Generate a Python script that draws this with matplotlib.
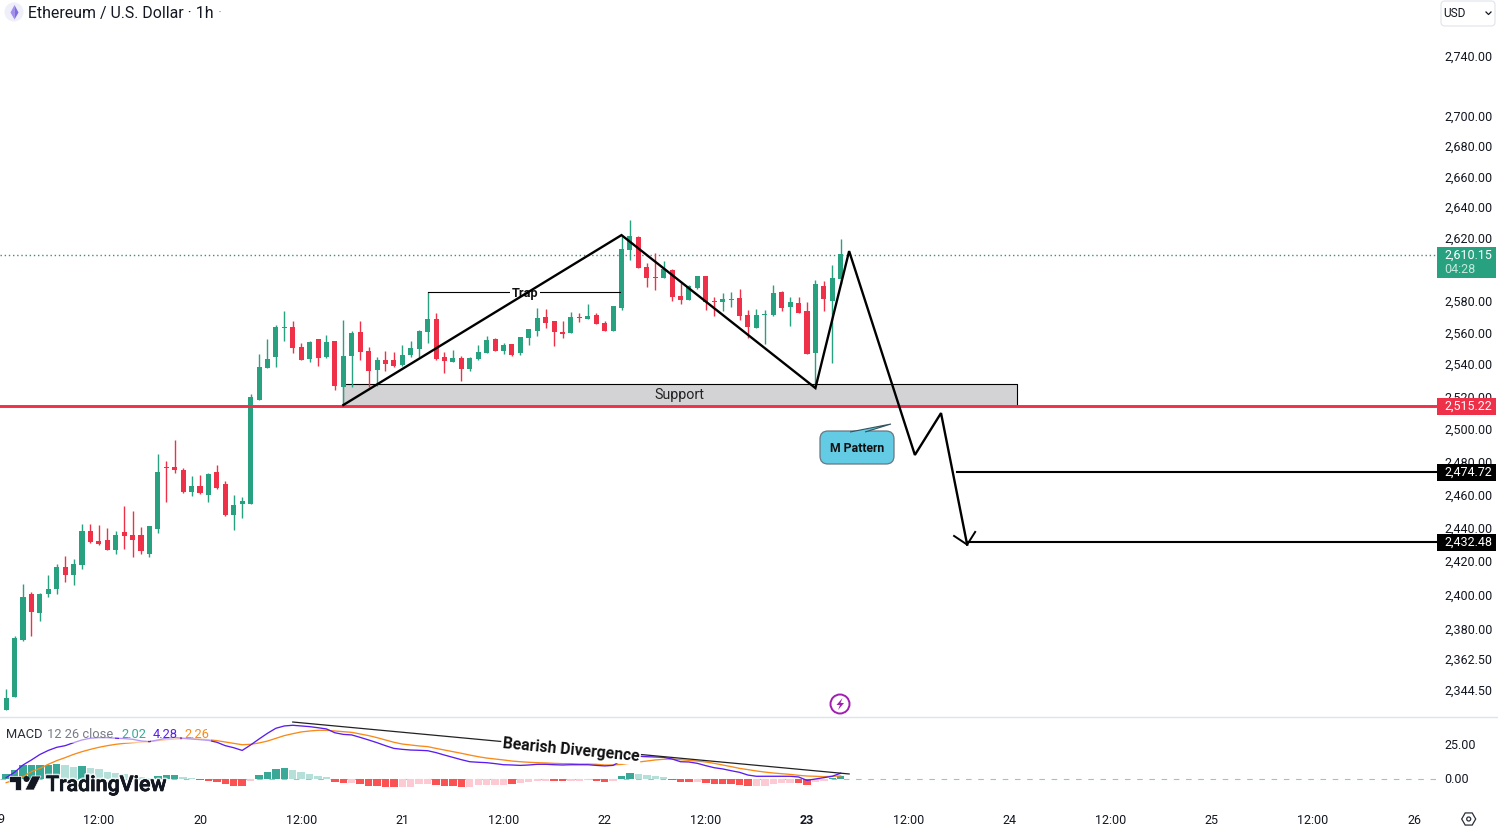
import matplotlib
matplotlib.use("Agg")
import matplotlib.pyplot as plt
import matplotlib.patheffects as pe
from matplotlib.patches import Rectangle, FancyBboxPatch, Polygon, Circle, RegularPolygon
from matplotlib.ticker import NullLocator
from matplotlib.transforms import blended_transform_factory, ScaledTranslation
import numpy as np

plt.rcParams['font.family'] = ['Roboto', 'DejaVu Sans']

# ---------- data ----------
hours = list(range(1, 101))
opens = [2333.5,2341,2374.1,2401.1,2390,2401.1,2404.1,2417.1,2412.4,2418.3,
2438.6,2432.6,2433.2,2427.2,2438,2436.2,2436.2,2424.9,2439.8,2477.2,
2477.2,2475.4,2462,2465.7,2460.2,2474.2,2466.9,2448.2,2454.8,2454.8,
2518.4,2538.3,2545.2,2563.4,2564,2551.4,2543.9,2556.4,2545.2,2555.2,
2526.4,2545.8,2560.8,2548.9,2537,2543.3,2543.3,2540.2,2546.4,2550.2,
2560.8,2569,2545.2,2542,2544.6,2537.7,2543.9,2547.7,2556.4,2548.9,
2553.3,2547.7,2557,2561.5,2570.3,2567.8,2560.8,2560.2,2570.3,2569,
2571.6,2566.5,2561.5,2576,2613,2621.3,2602.1,2595.7,2595,2600.2,
2583.6,2581.1,2588.7,2596.3,2580.5,2579.8,2581.1,2582.4,2571.6,2563.4,
2571.6,2571.6,2586.2,2576.7,2579.2,2574.1,2547.7,2590,2580.5,2594.4]
closes = [2340.4,2375.3,2399.4,2390.5,2401.1,2404.1,2417.1,2412.4,2418.9,2438.6,
2432,2430.8,2427.2,2436.2,2435.6,2433.2,2426.6,2441.6,2474.2,2476.6,
2475.4,2462,2465.7,2461.4,2473,2464.4,2448.2,2454.2,2456.6,2520.3,
2538.9,2543.9,2564,2564,2550.8,2543.3,2554.6,2544.6,2554.6,2527,
2545.8,2560.2,2548.3,2536.4,2543.3,2540.8,2539.6,2546.4,2550.8,2561.5,
2569,2543.9,2542.7,2544.6,2537.7,2544.6,2548.3,2555.8,2548.9,2552.7,
2546.4,2557.7,2562.7,2569.7,2566.5,2560.8,2559.6,2570.3,2569.7,2571,
2565.9,2561.5,2577.3,2613.6,2622,2601.5,2595,2595,2600.8,2583,
2581.1,2590,2596.3,2579.8,2579.8,2581.7,2581.7,2570.9,2564,2571.6,
2572.2,2585.6,2576,2579.8,2572.8,2547,2591.3,2581.7,2595,2610.15]
highs = [2345.6,2376.4,2407,2402.3,2401.7,2412.4,2418.9,2423.7,2421.9,2442.8,
2442.8,2442.2,2440.4,2438.6,2453.6,2450.6,2441,2441.6,2485.2,2480.9,
2493.8,2476.6,2471.7,2472.4,2473.6,2478.4,2468.7,2460.2,2459,2522.1,
2547,2556.4,2565.2,2574.1,2567.8,2553.9,2555.2,2556.4,2559,2555.2,
2568.4,2561.5,2567.8,2551.4,2545.2,2548.9,2548.3,2552.7,2555.2,2562.1,
2586.2,2572.8,2548.3,2549.5,2545.8,2545.2,2552.7,2558.3,2557,2553.9,
2553.3,2557.7,2562.7,2576,2575.4,2567.8,2567.8,2573.5,2572.8,2578.6,
2572.8,2567.8,2577.3,2622.6,2632.4,2622,2604.7,2611,2606,2600.8,
2591.9,2590.6,2596.3,2596.3,2583,2585.6,2586.2,2588,2574.7,2575.4,
2574.7,2590.6,2586.8,2583,2583,2579.8,2593.8,2593.2,2603.4,2620]
lows = [2333.5,2341,2373.5,2376.4,2385.2,2399.4,2401.1,2408.2,2406.4,2415.9,
2431.4,2430.2,2427.2,2424.9,2427.8,2423.1,2424.9,2423.1,2437.4,2456,
2473.6,2461.4,2459.6,2460.8,2456,2463.8,2447.6,2439.2,2446.4,2454.8,
2518.4,2538.3,2538.9,2555.2,2547.7,2543.3,2542,2539.6,2544.6,2524.6,
2515.3,2526.4,2543.3,2526.4,2527,2536.4,2538.9,2539.6,2545.2,2545.2,
2553.9,2543.3,2535.2,2542,2530.2,2536.4,2543.3,2547.7,2548.9,2547,
2545.8,2546.4,2552.7,2558.3,2563.4,2552,2557,2560.2,2567.2,2569,
2565.9,2561.5,2561.5,2574.7,2606.6,2601.5,2589.3,2587.4,2595,2580.5,
2578.6,2581.1,2588,2574.7,2570.9,2574.1,2576.7,2568.4,2557,2563.4,
2553.3,2570.9,2574.1,2564.6,2572.8,2547,2525.6,2574.1,2541.4,2591.3]

hist = [3.7,6.6,10.3,10.3,10.3,10.3,11,10.3,9,9.6,
7.8,7.4,5.4,4.2,3.7,2.5,1.7,.5,2,2.7,
2.9,1.2,.5,-.5,-1.2,-2,-3.7,-5.1,-5.1,-1.5,
2.9,5.4,7.4,8.1,6.6,5.4,3.9,2.5,1.5,-2,
-2.9,-2.9,-3.7,-5.1,-5.1,-5.9,-5.9,-5.9,-5.6,-3.9,
-3.7,-4.4,-5.1,-5.1,-5.9,-5.9,-4.4,-4.2,-4.2,-4.2,
-3.7,-2.9,-2.2,-1.5,-1.5,-1.2,-1.2,-1.2,-1.2,-.5,
-1.5,-2.2,-1.2,2.2,4.4,3.7,2.9,2.2,1.5,-.5,
-2.2,-2.2,-2.2,-3.2,-3.7,-3.7,-3.7,-4.4,-5.1,-5.1,
-5.1,-3.7,-2.9,-2.9,-2.9,-4.4,-2.2,-1.2,.7,2.02]
hist_strong = [1,1,1,1,1,1,1,0,0,1,
0,0,0,0,0,0,0,0,1,1,
1,0,0,1,1,1,1,1,1,0,
1,1,1,1,0,0,0,0,0,1,
1,0,1,1,1,1,1,0,0,0,
0,1,1,1,1,0,0,0,0,0,
1,0,0,0,0,1,1,0,0,0,
1,1,0,1,1,0,0,0,0,1,
1,1,0,1,1,1,1,1,1,0,
0,0,0,0,1,1,0,0,1,1]
macd_line = [1,4.9,10.3,14,18,21,23.3,24.5,26.7,28.7,
30,30.4,30.4,30,29.7,29.2,28,27.5,28.7,30,
30.6,30,29.4,28.9,28.4,27,24.5,23,21,25,
29.4,33.6,37.3,39,39.5,39,38.5,37.7,36.8,34,
32.8,32.4,30.6,28.7,26.7,24.5,22.5,21.8,21.3,21.1,
20.8,19.4,17.6,15.9,14.2,12.7,12.3,12,11.3,10.5,
10.3,10,10.3,10.8,10.8,10.5,10.3,10.5,10.5,10.5,
10,9.6,10,13.5,16.4,16.7,16.4,16.2,15.9,14.7,
12.7,12.5,11.5,9.8,8.3,7.4,6.1,4.9,2.9,2,
2,2,2,2,1.5,-1,0,1,2,4.28]
signal_line = [-2.7,-.7,1.7,5.4,7.8,10.8,13.5,15.7,18.1,20.1,
21.8,23.3,24.5,25.5,26.2,26.7,27.2,27.5,28.2,28.9,
29.4,29.7,29.7,29.4,28.9,28.2,27.2,26.2,25.2,25.5,
26.5,27.9,29.9,31.9,33.3,34.6,35.3,35.8,35.8,35.3,
34.8,34.3,33.1,31.9,30.4,28.7,27,25.7,25,24.3,
23.8,22.5,21.3,20.1,18.9,17.6,16.4,15.4,14.7,14,
13.2,12.7,12.3,12,11.8,11.5,11.3,11.3,11,11,
10.8,10.3,10.3,10.8,11.5,12.5,13.2,14,14.5,14.7,
14.2,13.7,13.2,12.5,11.5,10.3,9.1,7.8,6.9,5.9,
5.1,4.4,3.9,3.4,2.7,2.2,2,1.7,2,2.26]

price_ticks = [2740,2700,2680,2660,2640,2620,2580,2560,2540,2520,2500,2480,2460,2440,2420,2400,2380,2362.5,2344.5]
macd_ticks = [25, 0]
time_ticks = [12,24,36,48,60,72,84,96,108,120,132,144,156,168]
time_labels = ['12:00','20','12:00','21','12:00','22','12:00','23','12:00','24','12:00','25','12:00','26']

last_price = 2610.15
support_price = 2515.22
target1 = 2474.72
target2 = 2432.48
support_top = 2528.2
support_span = [41, 120.9]
support_text_at = (80.9, 2521.6)
trap_span = [51, 73.8]
trap_price = 2586.2
trap_text = (62.5, 2585.4)
zig_h = [41, 74, 97, 101, 108.8, 111.9, 115]
zig_p = [2515.3, 2622.6, 2525.8, 2612.3, 2484.6, 2510.3, 2430.4]
head_h = [113.45, 115, 115.95]
head_p = [2435.6, 2430.4, 2438]
target1_start = 113.8
target2_start = 115
div_h = [35, 101]
div_v = [41.9, 3.7]
div_text_at = (68, 21.4)

# ---------- layout ----------
W, H = 1498, 830
GREEN, RED = '#27a17f', '#ee3148'
TXT = '#131722'
PX_PER_HOUR, PX_ORIGIN = 8.43, -2.3
AX_R, MAIN_B, MACD_B = 1437, 716, 805
fig = plt.figure(figsize=(W/100, H/100), dpi=100, facecolor='white')
ax = fig.add_axes([0, 1-MAIN_B/H, AX_R/W, MAIN_B/H])
am = fig.add_axes([0, 1-MACD_B/H, AX_R/W, (MACD_B-717)/H])
ui = fig.add_axes([0, 0, 1, 1], zorder=10)
ui.set_xlim(0, W); ui.set_ylim(H, 0); ui.axis('off'); ui.patch.set_alpha(0)

up1 = ScaledTranslation(0, 1/100, fig.dpi_scale_trans)
down1 = ScaledTranslation(0, -1/100, fig.dpi_scale_trans)
down_support = ScaledTranslation(0, -0.8/100, fig.dpi_scale_trans)

xlim = ((0-PX_ORIGIN)/PX_PER_HOUR, (AX_R-PX_ORIGIN)/PX_PER_HOUR)

# ---------- price pane ----------
ax.set_yscale('log')
ax.set_xlim(*xlim)
ax.set_ylim(2740*np.exp(-659/4067), 2740*np.exp(57/4067))
for s in ax.spines.values():
    s.set_visible(False)
ax.set_xticks([])
ax.yaxis.tick_right()
ax.set_yticks(price_ticks)
ax.yaxis.set_minor_locator(NullLocator())
ax.set_yticklabels([f'{p:,.2f}' for p in price_ticks], fontsize=9, color=TXT)
ax.tick_params(axis='y', length=0, pad=5.1)
for lbl in ax.get_yticklabels():
    lbl.set_transform(lbl.get_transform() + up1)

colors = [GREEN if c >= o else RED for o, c in zip(opens, closes)]
ax.vlines(hours, lows, highs, colors=colors, lw=1.0, zorder=3)
body_lo = np.minimum(opens, closes)
body_hi = np.maximum(opens, closes)
ax.bar(hours, np.maximum(body_hi-body_lo, 0.6), bottom=body_lo, width=0.6, color=colors, lw=0, zorder=3)

ax.plot(xlim, [last_price]*2, color='#3d8f78', lw=1.0, ls=(0, (1, 2)), zorder=1,
        transform=ax.transData + down1)
ax.fill_between(support_span, support_price, support_top, color='#d3d3d6', lw=0, zorder=1)
ax.plot([support_span[0], support_span[0], support_span[1], support_span[1]],
        [support_price, support_top, support_top, support_price], color='black', lw=0.8, zorder=2)
ax.plot(xlim, [support_price]*2, color=RED, lw=2.1, zorder=4, transform=ax.transData + down_support)
ax.text(*support_text_at, 'Support', ha='center', va='center', fontsize=10.3, color='#222222', zorder=5)

ax.plot(trap_span, [trap_price]*2, color='black', lw=0.8, zorder=4)
ax.text(*trap_text, 'Trap', ha='center', va='center', fontsize=9.2, fontweight='bold', color='#111111',
        bbox=dict(fc='white', ec='none', pad=1.2), zorder=5)

ax.plot(zig_h, zig_p, color='black', lw=1.7, zorder=6, solid_joinstyle='miter')
ax.plot(head_h, head_p, color='black', lw=1.4, zorder=6)
ax.plot([target1_start, xlim[1]], [target1]*2, color='black', lw=1.5, zorder=5, transform=ax.transData + down1)
ax.plot([target2_start, xlim[1]], [target2]*2, color='black', lw=1.5, zorder=5, transform=ax.transData + down1)

# ---------- MACD pane ----------
am.set_xlim(*xlim)
am.set_ylim(-(MACD_B-779)/1.36, (779-717)/1.36)
am.patch.set_alpha(0)
for s in am.spines.values():
    s.set_visible(False)
hist_colors = []
for v, st in zip(hist, hist_strong):
    if v >= 0:
        hist_colors.append('#3aa896' if st else '#b5e0da')
    else:
        hist_colors.append('#fa5252' if st else '#fdc9d2')
am.axhline(0, color='#b5b8c0', lw=0.8, ls=(0, (5, 6)), zorder=1)
am.bar(hours, hist, width=0.88, color=hist_colors, lw=0, zorder=2)
am.plot(hours, signal_line, color='#f98a17', lw=0.95, zorder=3)
am.plot(hours, macd_line, color='#5a1cf0', lw=0.95, zorder=4)
am.plot(div_h, div_v, color='#222222', lw=0.9, zorder=5)
am.text(*div_text_at, 'Bearish Divergence', rotation=-5.5, rotation_mode='anchor', ha='center', va='center',
        fontsize=11.3, fontweight='bold', color='#111111', zorder=6,
        bbox=dict(fc='white', ec='none', pad=1.0))
am.yaxis.tick_right()
am.set_yticks(macd_ticks)
am.set_yticklabels([f'{v:.2f}' for v in macd_ticks], fontsize=9, color=TXT)
am.set_xticks(time_ticks)
am.set_xticklabels(time_labels, fontsize=9, color=TXT)
for lbl in am.get_xticklabels():
    if lbl.get_text() == '23':
        lbl.set_fontweight('bold')
am.tick_params(axis='both', length=0)
am.tick_params(axis='y', pad=5.1)
am.tick_params(axis='x', pad=6.5)
for lbl in am.get_yticklabels():
    lbl.set_transform(lbl.get_transform() + up1)
am.text(0, 819, '19', transform=blended_transform_factory(am.transData, ui.transData), ha='center', va='center',
        fontsize=9, color=TXT, clip_on=False)

# ---------- chrome ----------
ui.plot([0, W], [716.5, 716.5], color='#e0e3eb', lw=1)

def price_y(p):
    return H - ax.transData.transform((1, p))[1] + 1

def tag(price, text, color, h=17):
    y = price_y(price)
    ui.add_patch(Rectangle((AX_R, y-h/2), W-2-AX_R, h, fc=color, ec='none'))
    ui.text(1444.3, y, text, color='white', fontsize=9, va='center', ha='left')

yl = price_y(last_price)
ui.add_patch(Rectangle((AX_R, yl-8), W-2-AX_R, 31, fc=GREEN, ec='none'))
ui.text(1444.3, yl, '2,610.15', color='white', fontsize=9, va='center')
ui.text(1444.3, yl+14, '04:28', color='#c5e8dc', fontsize=9, va='center')
tag(support_price, '2,515.22', RED)
tag(target1, '2,474.72', '#000000')
tag(target2, '2,432.48', '#000000')

# title
ui.add_patch(Circle((14, 12), 9.5, fc='#eeeff8', ec='none'))
ui.add_patch(Polygon([(14.5, 5), (10.5, 12.5), (14.5, 19.5)], fc='#a58cf0', ec='none'))
ui.add_patch(Polygon([(14.5, 5), (18.5, 12.5), (14.5, 19.5)], fc='#7f6ee0', ec='none'))
ui.text(28, 13.3, 'Ethereum / U.S. Dollar · 1h', fontsize=11.4, color=TXT, va='center')
ui.text(218, 13.3, '·', fontsize=11.4, color='#a0a3ad', va='center')

# currency button
ui.add_patch(FancyBboxPatch((1443, 3), 50, 21, boxstyle='round,pad=2,rounding_size=4', fc='white', ec='#e0e3eb', lw=0.8))
ui.text(1443.5, 13.7, 'USD', fontsize=8.6, color=TXT, va='center')
ui.plot([1486, 1488.5, 1491], [12, 14.5, 12], color=TXT, lw=0.9)

# M Pattern callout
ui.add_patch(FancyBboxPatch((826, 437), 62, 21, boxstyle='round,pad=6,rounding_size=8', fc='#63cbe3', ec='#6b7680', lw=0.9, zorder=7))
ui.add_patch(Polygon([(850, 432), (891, 424), (865, 432)], closed=False, fc='#63cbe3', ec='#33525c', lw=0.8, zorder=8))
ui.text(857, 448, 'M Pattern', fontsize=8.8, fontweight='bold', color='#111111', ha='center', va='center', zorder=9)

# lightning marker
ui.add_patch(Circle((840, 704), 9.5, fc='white', ec='#a01fb0', lw=1.4))
ui.add_patch(Polygon([(842.5, 698), (836.5, 705), (840, 705), (838, 710), (844, 703), (840.5, 703)], fc='#a01fb0', ec='none'))

# MACD legend
leg_box = dict(fc='white', ec='none', alpha=0.55, pad=1.6)
for x, s, c in [(6, 'MACD', '#2a2e39'), (47, '12 26 close', '#787b86'), (121, '2.02', '#3aa896'),
                (153, '4.28', '#5a1cf0'), (184, '2.26', '#f98a17')]:
    ui.text(x, 734, s, fontsize=9.3, color=c, va='center', bbox=leg_box)

# TradingView logo
halo = [pe.withStroke(linewidth=3, foreground='white', alpha=0.75), pe.withStroke(linewidth=0.5, foreground='#131722')]
ui.text(46, 785.5, 'TradingView', fontsize=15.4, fontweight='medium', color='#131722', va='center', path_effects=halo)
logo_c = '#131722'
ui.add_patch(Polygon([(9, 776), (21, 776), (21, 790), (15, 790), (15, 782), (9, 782)], fc=logo_c, ec='white', lw=0.5))
ui.add_patch(Circle((26.5, 779), 3, fc=logo_c, ec='none'))
ui.add_patch(Polygon([(32, 776), (41, 776), (34, 790), (25, 790)], fc=logo_c, ec='white', lw=0.5))

# settings glyph
ui.add_patch(RegularPolygon((1468.7, 819), 6, radius=7, orientation=np.pi/2, fc='white', ec='#2a2e39', lw=0.9))
ui.add_patch(Circle((1468.7, 819), 2, fc='white', ec='#2a2e39', lw=0.9))

fig.savefig('out.png', dpi=100, facecolor='white')
